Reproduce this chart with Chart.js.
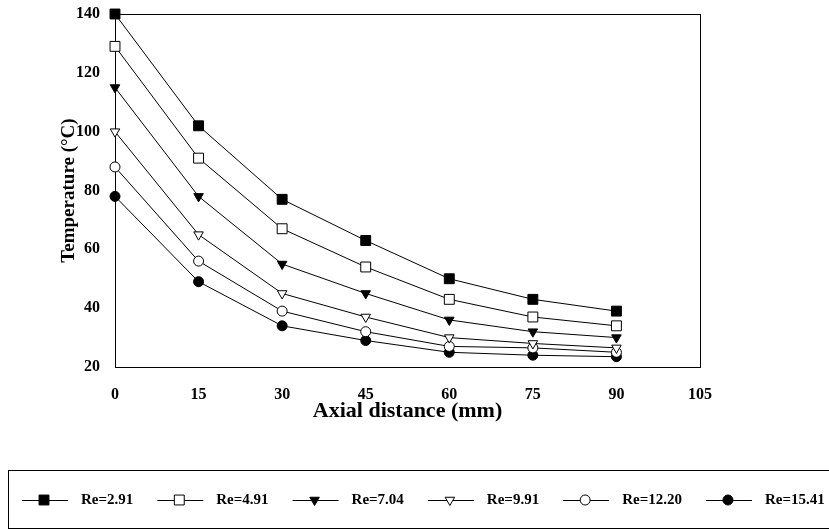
<!DOCTYPE html>
<html>
<head>
<meta charset="utf-8">
<script src="https://cdn.jsdelivr.net/npm/chart.js@4"></script>
<style>
    html, body { margin: 0; padding: 0; background: #fff; }
    #wrap { width: 829px; height: 530px; }
</style>
</head>
<body>
<div id="wrap"><canvas id="chart" width="829" height="530"></canvas></div>
<script>
// axial distance (mm)
const distances = [0, 15, 30, 45, 60, 75, 90];

// temperature (°C) per Reynolds number
const re291 = [140, 102, 77, 63, 50, 43, 39];
const re491 = [129, 91, 67, 54, 43, 37, 34];
const re704 = [115, 78, 55, 45, 36, 32, 30];
const re991 = [100, 65, 45, 37, 30, 28, 26.5];
const re1220 = [88, 56, 39, 32, 27, 26.5, 25];
const re1541 = [78, 49, 34, 29, 25, 24, 23.5];

const seriesLabels = ["Re=2.91", "Re=4.91", "Re=7.04", "Re=9.91", "Re=12.20", "Re=15.41"];

const SERIF = "'Liberation Serif', 'DejaVu Serif', serif";

const markers = [
    { style: "rect", radius: 7, fill: "#000", rotation: 0 },
    { style: "rect", radius: 7, fill: "#fff", rotation: 0 },
    { style: "triangle", radius: 5.5, fill: "#000", rotation: 180 },
    { style: "triangle", radius: 5.5, fill: "#fff", rotation: 180 },
    { style: "circle", radius: 5, fill: "#fff", rotation: 0 },
    { style: "circle", radius: 5, fill: "#000", rotation: 0 },
];

const series = [re291, re491, re704, re991, re1220, re1541];

const datasets = series.map((values, i) => ({
    label: seriesLabels[i],
    data: values.map((v, j) => ({ x: distances[j], y: v })),
    borderColor: "#000",
    borderWidth: 1,
    backgroundColor: markers[i].fill,
    pointStyle: markers[i].style,
    pointRadius: markers[i].radius,
    pointRotation: markers[i].rotation,
    pointBackgroundColor: markers[i].fill,
    pointBorderColor: "#000",
    pointBorderWidth: 1,
    tension: 0,
    fill: false,
    clip: false,
}));

// frame round the plot area
const frame = {
    id: "frame",
    beforeDatasetsDraw(chart) {
        const { ctx, chartArea: a } = chart;
        ctx.save();
        ctx.strokeStyle = "#000";
        ctx.lineWidth = 1;
        ctx.strokeRect(Math.round(a.left) + 0.5, Math.round(a.top) + 0.5,
            Math.round(a.right - a.left), Math.round(a.bottom - a.top));
        ctx.restore();
    },
};

// boxed legend below the chart: line - marker - line, then the label
const boxLegend = {
    id: "boxLegend",
    afterDraw(chart) {
        const ctx = chart.ctx;
        ctx.save();
        ctx.strokeStyle = "#000";
        ctx.lineWidth = 1;
        ctx.strokeRect(8.5, 470.5, 830, 58);

        ctx.font = "bold 15px " + SERIF;
        ctx.textBaseline = "middle";
        ctx.textAlign = "left";
        const y = 500;
        let x = 22;
        chart.data.datasets.forEach((ds, i) => {
            ctx.strokeStyle = "#000";
            ctx.lineWidth = 1;
            ctx.beginPath();
            ctx.moveTo(x, y + 0.5);
            ctx.lineTo(x + 46, y + 0.5);
            ctx.stroke();

            ctx.fillStyle = markers[i].fill;
            ctx.strokeStyle = "#000";
            Chart.helpers.drawPoint(ctx, {
                pointStyle: markers[i].style,
                radius: markers[i].radius,
                rotation: markers[i].rotation,
                borderWidth: 1,
            }, x + 22, y);

            ctx.fillStyle = "#000";
            ctx.fillText(ds.label, x + 59, y);
            x += 59 + ctx.measureText(ds.label).width + 24;
        });
        ctx.restore();
    },
};

new Chart(document.getElementById("chart"), {
    type: "line",
    data: { datasets },
    options: {
        responsive: false,
        animation: false,
        layout: { autoPadding: false, padding: { top: 14, right: 129, bottom: 103, left: 0 } },
        plugins: { legend: { display: false }, tooltip: { enabled: false } },
        scales: {
            x: {
                type: "linear",
                min: 0,
                max: 105,
                grid: { display: false, drawTicks: false },
                border: { display: false },
                ticks: {
                    stepSize: 15,
                    padding: 18,
                    color: "#000",
                    font: { family: SERIF, size: 16, weight: "bold" },
                    maxRotation: 0,
                },
                title: {
                    display: true,
                    text: "Axial distance (mm)",
                    color: "#000",
                    font: { family: SERIF, size: 22, weight: "bold" },
                    padding: { bottom: 2 },
                },
                afterFit(scale) { scale.height = 60; },
            },
            y: {
                min: 20,
                max: 140,
                grid: { display: false, drawTicks: false },
                border: { display: false },
                ticks: {
                    stepSize: 20,
                    padding: 15,
                    color: "#000",
                    font: { family: SERIF, size: 16, weight: "bold" },
                },
                title: {
                    display: true,
                    text: "Temperature (°C)",
                    color: "#000",
                    font: { family: SERIF, size: 19, weight: "bold" },
                    padding: { top: 58 },
                },
                afterFit(scale) {
                    scale.width = 115;
                    scale.paddingTop = 0;
                    scale.paddingBottom = 0;
                },
            },
        },
    },
    plugins: [frame, boxLegend],
});
</script>
</body>
</html>
